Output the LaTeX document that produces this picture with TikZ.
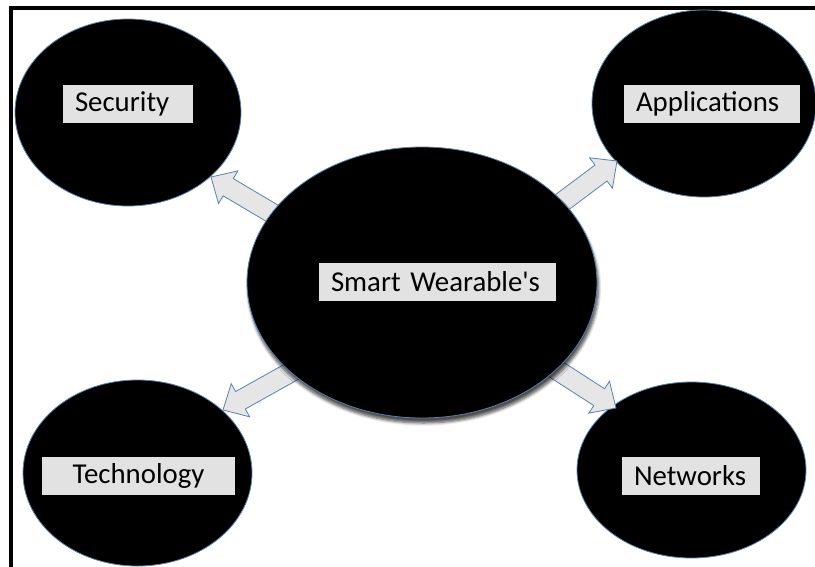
\documentclass[tikz,border=0pt]{standalone}
\usepackage{fontspec}
\newfontfamily\lblfont{Carlito}
\usetikzlibrary{shapes.geometric,calc,shadows.blur}
\definecolor{edgeblue}{HTML}{5A80AE}
\definecolor{arrowfill}{HTML}{E6E6E6}
\definecolor{lblfill}{HTML}{E2E2E2}
\tikzset{
  bubble/.style={ellipse, fill=black, draw=edgeblue, line width=0.8pt, inner sep=0pt},
  lbl/.style={rectangle, fill=lblfill, inner xsep=12pt, inner ysep=0pt,
    minimum height=38pt, font=\lblfont\fontsize{28.8}{32}\selectfont, align=left},
  blockarrow/.style={fill=arrowfill, draw=edgeblue, line width=0.8pt, line join=miter},
  frameline/.style={line width=4pt, line join=miter}
}
\newcommand{\blockarr}[2]{%
  \coordinate (hb) at ($(#2)!20pt!(#1)$);
  \draw[blockarrow] ($(#1)!10pt!90:(#2)$) -- ($(hb)!10pt!-90:(#1)$)
    -- ($(hb)!19pt!-90:(#1)$) -- (#2) -- ($(hb)!19pt!90:(#1)$)
    -- ($(hb)!10pt!90:(#1)$) -- ($(#1)!10pt!-90:(#2)$) -- cycle;
}
\begin{document}
\begin{tikzpicture}[x=1pt,y=-1pt]
\useasboundingbox (0,0) rectangle (815,566);
% frame
\coordinate (fbl) at (10.5,570);
\coordinate (ftl) at (10.5,8);
\coordinate (ftr) at (820,8);
\draw[frameline] (fbl) -- (ftl) -- (ftr);
% outer bubbles
\node[bubble, minimum width=226pt, minimum height=187pt] (sec) at (128,112.5) {};
\node[bubble, minimum width=224pt, minimum height=187pt] (app) at (704,103.5) {};
\node[bubble, minimum width=229pt, minimum height=186pt] (tec) at (137.5,473) {};
\node[bubble, minimum width=229pt, minimum height=176pt] (net) at (691.5,470) {};
% arrows
\coordinate (t1) at (292,225); \coordinate (p1) at (211,177);
\coordinate (t2) at (545,215); \coordinate (p2) at (617,161);
\coordinate (t3) at (300,367); \coordinate (p3) at (223,410);
\coordinate (t4) at (540,359); \coordinate (p4) at (616,408);
\blockarr{t1}{p1}
\blockarr{t2}{p2}
\blockarr{t3}{p3}
\blockarr{t4}{p4}
% centre bubble
\node[bubble, minimum width=350pt, minimum height=271pt,
  blur shadow={shadow xshift=1.5pt, shadow yshift=-5pt, shadow blur radius=3pt, shadow blur steps=6, shadow opacity=70}] (ctr) at (422,282.5) {};
% labels
\node[lbl, text width=106pt] (lsec) at (128,104) {Security};
\node[lbl, text width=152pt] (lapp) at (712,104) {Applications};
\node[lbl, text width=213pt] (lctr) at (437.5,282) {Smart Wearable's};
\node[lbl, text width=169pt, align=center] (ltec) at (138.5,476) {Technology};
\node[lbl, text width=114pt] (lnet) at (691,476) {Networks};
\end{tikzpicture}
\end{document}
